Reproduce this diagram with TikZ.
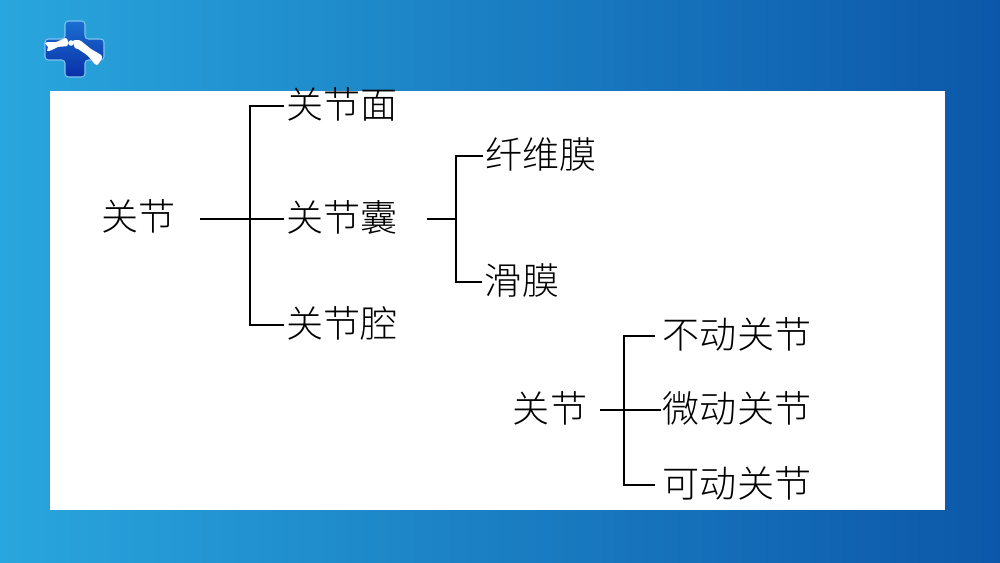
\documentclass[tikz,border=0pt]{standalone}
\usepackage{fontspec}
\newfontfamily\cjk[UprightFont={* Light}]{Noto Sans CJK SC}
\definecolor{bgL}{HTML}{29A6DD}
\definecolor{bgM}{HTML}{1675BE}
\definecolor{bgR}{HTML}{0C57A9}
\definecolor{crossT}{HTML}{1A6FD0}
\definecolor{crossB}{HTML}{0A2FA8}
\definecolor{crossE}{HTML}{7FC4EE}
\tikzset{
 lbl/.style={inner sep=0pt,outer ysep=0pt,font=\cjk\fontsize{27.8}{30}\selectfont,text=black,text height=22pt,text depth=3.5pt,anchor=center,align=center},
 lnk/.style={draw=black,line width=1.9pt,line cap=butt,line join=miter},
 bone/.style={draw=none,fill=white}
}
\begin{document}
\begin{tikzpicture}[x=0.75pt,y=-0.75pt]
\useasboundingbox (0,0) rectangle (1000,563);
\shade[left color=bgL,middle color=bgM,right color=bgR] (0,0) rectangle (1000,563);
\fill[white] (50,91) rectangle (945,510);
% logo
\path[draw=crossE,line width=0.8pt,top color=crossT,bottom color=crossB,rounded corners=2.5pt]
 (65,21) -- (85,21) -- (85,39) -- (104,39) -- (104,60) -- (85,60) -- (85,77) -- (65,77) -- (65,60) -- (45,60) -- (45,39) -- (65,39) -- cycle;
\fill[bone] plot[smooth cycle] coordinates {(45,43) (49,42) (56,42) (66,38) (68,42) (67,46) (58,47) (52,50) (47,51) (48,47)};
\fill[bone] (71,43) circle (2.1pt);
\fill[bone] plot[smooth cycle] coordinates {(73,41) (77,40) (81,41) (91,49) (98,53) (102,56) (101,60) (97,65) (93,62) (88,56) (78,49) (75,48)};
% labels
\node[lbl] (root) at (138.5,218) {关节};
\node[lbl,outer xsep=1.9pt] (mian) at (342,106) {关节面};
\node[lbl,outer xsep=1.9pt] (nang) at (342,219) {关节囊};
\node[lbl,outer xsep=1.9pt] (qiang) at (342,325) {关节腔};
\node[lbl,outer xsep=1.9pt] (xian) at (541,156) {纤维膜};
\node[lbl,outer xsep=1.9pt] (hua) at (522,282) {滑膜};
\node[lbl] (root2) at (550,410) {关节};
\node[lbl,outer xsep=6pt] (bu) at (737,336) {不动关节};
\node[lbl,outer xsep=1.5pt] (wei) at (737,410) {微动关节};
\node[lbl,outer xsep=6pt] (ke) at (737,485) {可动关节};
% connectors
\coordinate (rootOut) at (200,219);
\coordinate (j1) at (250,219);
\coordinate (nangOut) at (427,219);
\coordinate (j2) at (456,219);
\coordinate (root2Out) at (600,410);
\coordinate (j3) at (624,410);
\draw[lnk] (rootOut) -- (nang.west);
\draw[lnk] (mian.west) -| (j1) |- (qiang.west);
\draw[lnk] (nangOut) -- (j2);
\draw[lnk] (xian.west) -| (j2) |- (hua.west);
\draw[lnk] (root2Out) -- (wei.west);
\draw[lnk] (bu.west) -| (j3) |- (ke.west);
\end{tikzpicture}
\end{document}
